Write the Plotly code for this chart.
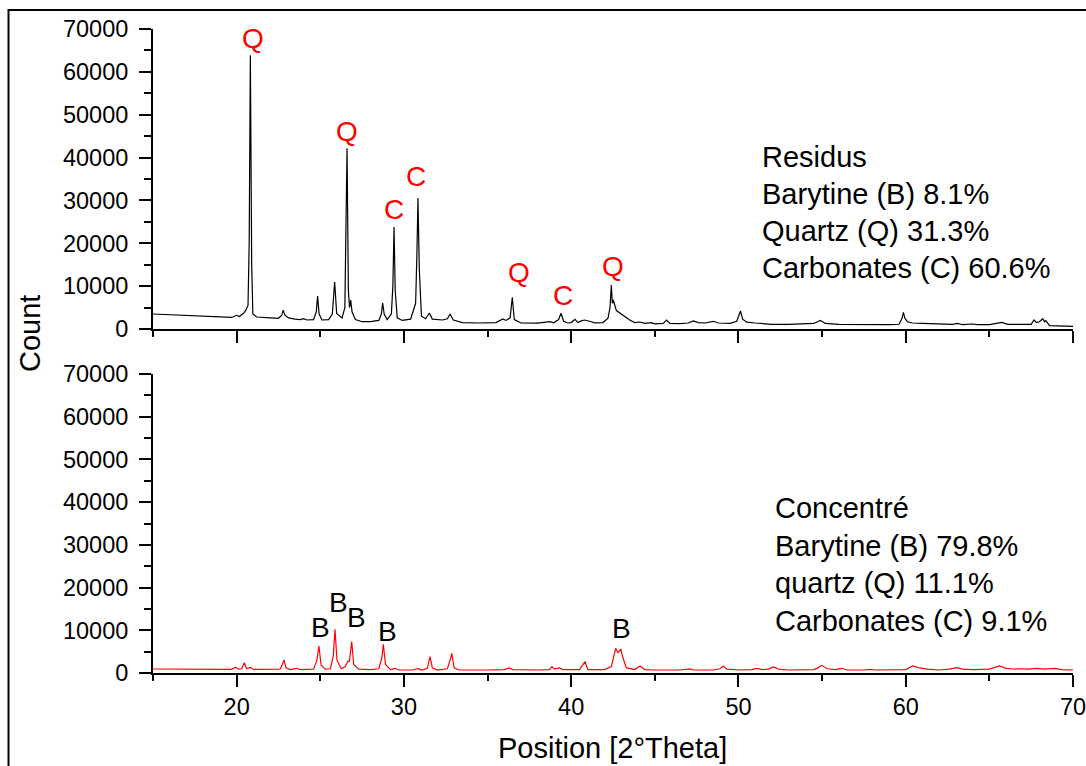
import plotly.graph_objects as go

# --- Residus pattern (2theta, counts) ---
residus_2theta = [
    15.0, 16.0, 17.0, 18.0, 19.0, 19.7, 20.0, 20.15, 20.4, 20.55, 20.68, 20.75, 20.82, 20.9, 20.97,
    21.2, 22.0, 22.5, 22.7, 22.78, 22.88, 23.1, 23.5, 23.8, 24.0, 24.2, 24.6, 24.76, 24.84, 24.93,
    25.1, 25.5, 25.72, 25.86, 25.98, 26.3, 26.47, 26.6, 26.68, 26.75, 26.82, 26.9, 27.1, 27.5, 28.0,
    28.5, 28.65, 28.73, 28.82, 29.0, 29.25, 29.34, 29.41, 29.48, 29.6, 29.9, 30.4, 30.7, 30.78, 30.84,
    30.92, 31.05, 31.3, 31.52, 31.7, 32.3, 32.6, 32.76, 32.95, 33.5, 34.5, 35.5, 35.92, 36.1, 36.35,
    36.48, 36.6, 37.0, 38.0, 38.5, 38.73, 38.95, 39.25, 39.39, 39.55, 39.8, 40.0, 40.23, 40.4, 40.6,
    40.8, 41.1, 41.4, 41.9, 42.2, 42.32, 42.4, 42.46, 42.52, 42.7, 42.92, 43.2, 43.5, 43.8, 44.1,
    44.4, 44.8, 45.0, 45.5, 45.7, 45.9, 46.5, 47.0, 47.3, 47.6, 48.0, 48.5, 48.8, 49.5, 49.9,
    50.05, 50.12, 50.25, 50.5, 51.0, 51.5, 52.0, 53.0, 54.0, 54.5, 54.9, 55.2, 56.0, 57.0, 58.0,
    59.0, 59.6, 59.78, 59.86, 59.95, 60.1, 60.4, 61.0, 62.0, 62.8, 63.1, 63.4, 63.95, 64.3, 65.0,
    65.5, 65.74, 66.1, 67.0, 67.5, 67.67, 67.82, 67.99, 68.19, 68.3, 68.37, 68.6, 69.0, 70.0,
]
residus_counts = [
    3500, 3350, 3200, 3000, 2800, 2700, 3200, 2900, 3600, 4400, 5500, 20000, 63900, 15000, 3500,
    2800, 2600, 2500, 3200, 4400, 3300, 2600, 2300, 2200, 2400, 2100, 2200, 4000, 7700, 3500,
    2100, 2200, 3500, 10970, 3600, 2600, 5000, 42200, 9000, 5000, 6770, 4000, 2200, 1700, 1700,
    2000, 3500, 6070, 3500, 2200, 3500, 10000, 23800, 9000, 2600, 2000, 2300, 6000, 18000, 30570,
    14000, 3000, 2400, 3730, 2300, 2100, 2400, 3500, 2100, 1500, 1400, 1500, 2330, 2000, 2600,
    7400, 2200, 1400, 1350, 1500, 1700, 1450, 2200, 3660, 1800, 1400, 1500, 2260, 1500, 1900,
    2100, 1800, 1450, 1500, 2500, 5000, 10270, 6000, 6770, 4300, 3730, 2800, 2100, 1500, 1630,
    1300, 1470, 1200, 1300, 2100, 1300, 1250, 1400, 1870, 1500, 1400, 1800, 1400, 1300, 1800,
    3500, 4200, 2300, 1600, 1400, 1200, 1100, 1100, 1200, 1300, 2000, 1300, 1100, 1050, 1100,
    1000, 1100, 2500, 3900, 2500, 1700, 1400, 1300, 1100, 1100, 1330, 1000, 1170, 1000, 1000,
    1300, 1560, 1100, 1000, 1100, 2100, 1500, 1700, 2400, 1700, 1940, 800, 700, 600,
]

# --- Concentré pattern (2theta, counts) ---
concentre_2theta = [
    15.0, 16.0, 17.0, 18.0, 19.0, 19.7, 19.94, 20.1, 20.3, 20.46, 20.6, 20.84, 21.0, 22.0, 22.6,
    22.73, 22.83, 22.95, 23.2, 23.59, 23.8, 24.6, 24.8, 24.92, 25.05, 25.3, 25.6, 25.78, 25.88, 26.0,
    26.25, 26.5, 26.66, 26.74, 26.88, 27.0, 27.3, 28.0, 28.5, 28.68, 28.77, 28.9, 29.2, 29.47, 29.7,
    30.5, 30.86, 31.1, 31.4, 31.56, 31.7, 32.0, 32.6, 32.76, 32.86, 33.0, 33.3, 35.0, 36.0, 36.3,
    36.5, 38.0, 38.7, 38.85, 39.0, 39.3, 39.5, 40.5, 40.83, 41.0, 42.0, 42.4, 42.55, 42.66, 42.8,
    42.96, 43.1, 43.3, 43.8, 44.12, 44.4, 45.0, 46.5, 47.1, 47.3, 48.5, 48.9, 49.09, 49.3, 50.0,
    50.8, 51.09, 51.4, 51.8, 52.08, 52.4, 53.0, 54.0, 54.5, 54.75, 54.98, 55.3, 55.8, 56.17, 56.5,
    57.5, 57.87, 58.2, 59.5, 60.0, 60.42, 60.8, 61.3, 62.0, 62.6, 63.05, 63.4, 64.0, 65.0, 65.6,
    66.0, 66.4, 66.8, 67.3, 67.83, 68.3, 68.93, 69.3, 70.0,
]
concentre_counts = [
    940, 900, 880, 870, 850, 850, 1330, 900, 1000, 2420, 1000, 1330, 850, 800, 900,
    2000, 3040, 1200, 800, 1100, 800, 900, 3000, 6320, 1800, 900, 1000, 4000, 10230, 3000,
    1000, 1500, 2800, 2700, 7330, 2000, 900, 800, 1000, 3500, 6720, 2000, 800, 1100, 700,
    700, 1000, 700, 1100, 3820, 1200, 700, 1000, 3000, 4610, 1200, 700, 700, 800, 1200,
    800, 700, 800, 1500, 900, 1200, 800, 800, 2650, 800, 800, 1500, 4000, 5780, 4760,
    5620, 3500, 1200, 800, 1640, 800, 700, 700, 940, 700, 700, 1000, 1640, 900, 700,
    800, 1100, 800, 900, 1400, 900, 700, 700, 800, 1200, 1790, 1000, 800, 1100, 700,
    700, 860, 700, 700, 800, 1640, 1200, 900, 700, 900, 1250, 900, 800, 900, 1640,
    1100, 940, 1000, 900, 1100, 900, 1100, 800, 700,
]

# Phase labels over the peaks: (letter, 2theta, counts)
residus_labels = ["Q", "Q", "C", "C", "Q", "C", "Q"]
residus_label_x = [20.96, 26.58, 29.41, 30.72, 36.88, 39.49, 42.48]
residus_label_y = [67900, 45970, 27770, 35470, 13070, 7930, 14700]

concentre_labels = ["B", "B", "B", "B", "B"]
concentre_label_x = [25.03, 26.08, 27.18, 29.01, 43.02]
concentre_label_y = [10770, 16390, 13110, 9830, 10530]

# Composition legends
residus_text = ["Residus", "Barytine (B) 8.1%", "Quartz (Q) 31.3%", "Carbonates (C) 60.6%"]
concentre_text = ["Concentré", "Barytine (B) 79.8%", "quartz (Q) 11.1%", "Carbonates (C) 9.1%"]

W, H = 1086, 766
FONT = "Liberation Sans, Arial, sans-serif"


def px_x(p):
    return p / W


def px_y(p):
    return 1 - p / H


fig = go.Figure()
fig.add_trace(go.Scatter(x=residus_2theta, y=residus_counts, mode="lines",
                         line=dict(color="black", width=1.2), xaxis="x", yaxis="y",
                         showlegend=False))
fig.add_trace(go.Scatter(x=concentre_2theta, y=concentre_counts, mode="lines",
                         line=dict(color="#ff0000", width=1.2), xaxis="x2", yaxis="y2",
                         showlegend=False))

x_dom = [px_x(153), px_x(1073)]
top_dom = [px_y(329), px_y(29)]
bot_dom = [px_y(673), px_y(374)]

common_axis = dict(
    showline=True, linecolor="black", linewidth=2, showgrid=False, zeroline=False,
    ticks="outside", ticklen=12, tickwidth=2, tickcolor="black", automargin=False,
    tickformat="d", ticklabeloverflow="allow",
    tickfont=dict(family=FONT, size=23.5, color="black"),
)

fig.update_layout(
    width=W, height=H,
    margin=dict(l=0, r=0, t=0, b=0, autoexpand=False),
    paper_bgcolor="white", plot_bgcolor="white",
    xaxis=dict(domain=x_dom, anchor="y", range=[15, 70], dtick=10, tick0=0,
               showticklabels=False,
               minor=dict(dtick=5, tick0=0, ticks="outside", ticklen=6, tickwidth=2,
                          tickcolor="black"),
               **common_axis),
    yaxis=dict(domain=top_dom, anchor="x", range=[0, 70000], dtick=10000,
               ticklabelstandoff=6,
               minor=dict(dtick=5000, ticks="outside", ticklen=7, tickwidth=2,
                          tickcolor="black"),
               **common_axis),
    xaxis2=dict(domain=x_dom, anchor="y2", range=[15, 70], dtick=10, tick0=0,
                matches="x", ticklabelstandoff=0,
                minor=dict(dtick=5, tick0=0, ticks="outside", ticklen=6, tickwidth=2,
                           tickcolor="black"),
                **common_axis),
    yaxis2=dict(domain=bot_dom, anchor="x2", range=[0, 70000], dtick=10000,
                ticklabelstandoff=6,
                minor=dict(dtick=5000, ticks="outside", ticklen=7, tickwidth=2,
                           tickcolor="black"),
                **common_axis),
)

annotations = []
for t, x, y in zip(residus_labels, residus_label_x, residus_label_y):
    annotations.append(dict(text=t, x=x, y=y, xref="x", yref="y", showarrow=False,
                            xanchor="center", yanchor="middle",
                            font=dict(family=FONT, size=28, color="#ff0000")))
for t, x, y in zip(concentre_labels, concentre_label_x, concentre_label_y):
    annotations.append(dict(text=t, x=x, y=y, xref="x2", yref="y2", showarrow=False,
                            xanchor="center", yanchor="middle",
                            font=dict(family=FONT, size=28, color="black")))

for i, line in enumerate(residus_text):
    annotations.append(dict(text=line, x=px_x(760), y=px_y(157 + 37 * i), xref="paper",
                            yref="paper", showarrow=False, xanchor="left", yanchor="middle",
                            font=dict(family=FONT, size=29, color="black")))
for i, line in enumerate(concentre_text):
    annotations.append(dict(text=line, x=px_x(773), y=px_y(508 + 37.5 * i), xref="paper",
                            yref="paper", showarrow=False, xanchor="left", yanchor="middle",
                            font=dict(family=FONT, size=29, color="black")))

# Axis titles
annotations.append(dict(text="Count", x=px_x(30), y=px_y(334), xref="paper", yref="paper",
                        showarrow=False, textangle=-90, xanchor="center", yanchor="middle",
                        font=dict(family=FONT, size=29, color="black")))
annotations.append(dict(text="Position [2°Theta]", x=px_x(613), y=px_y(748), xref="paper",
                        yref="paper", showarrow=False, xanchor="center", yanchor="middle",
                        font=dict(family=FONT, size=29, color="black")))
fig.update_layout(annotations=annotations)

# Outer frame
fig.add_shape(type="rect", xref="paper", yref="paper",
              x0=px_x(8.5), x1=px_x(1095), y0=px_y(780), y1=px_y(10),
              line=dict(color="black", width=2), fillcolor="rgba(0,0,0,0)")

fig.write_html("out.html")
